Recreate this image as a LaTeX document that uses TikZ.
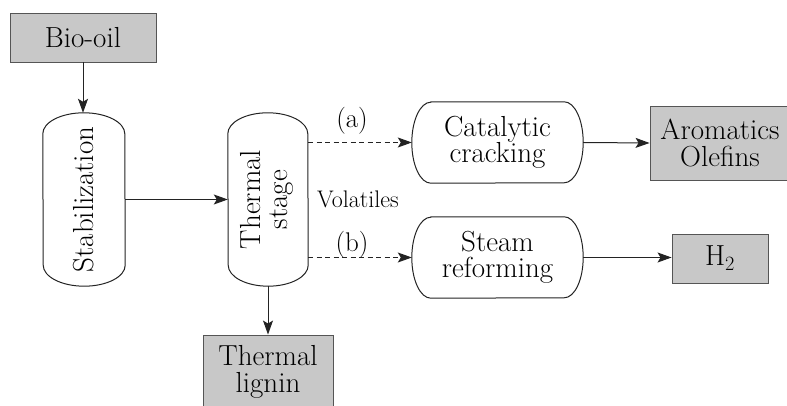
\documentclass[tikz,border=0pt]{standalone}
\usetikzlibrary{arrows.meta}

\definecolor{boxgray}{RGB}{200,200,200}
\definecolor{edgegray}{RGB}{85,85,85}
\definecolor{inkline}{RGB}{35,35,35}

% vertical capsule outline round a node: #1 node, #2 half width, #3 cap depth
\newcommand\vcapsule[3]{%
  \draw[capline] ([yshift=-#3pt]#1.north west)
    arc[start angle=180,end angle=0,x radius=#2pt,y radius=#3pt]
    -- ([yshift=#3pt]#1.south east)
    arc[start angle=0,end angle=-180,x radius=#2pt,y radius=#3pt]
    -- cycle;}
% horizontal capsule outline round a node: #1 node, #2 cap depth, #3 half height
\newcommand\hcapsule[3]{%
  \draw[capline] ([xshift=#2pt]#1.north west)
    -- ([xshift=-#2pt]#1.north east)
    arc[start angle=90,end angle=-90,x radius=#2pt,y radius=#3pt]
    -- ([xshift=#2pt]#1.south west)
    arc[start angle=270,end angle=90,x radius=#2pt,y radius=#3pt]
    -- cycle;}

\begin{document}
\begin{tikzpicture}[x=1pt,y=1pt,
  txt/.style={font=\rmfamily\fontsize{29}{26.5}\selectfont, align=center},
  prod/.style={txt, draw=edgegray, fill=boxgray, line width=0.9pt, inner sep=0pt},
  unit/.style={txt, draw=none, inner sep=0pt},
  capline/.style={draw=inkline, line width=1pt},
  flow/.style={draw=inkline, line width=1pt, -{Stealth[length=14pt,width=10pt,inset=3pt]}},
  alt/.style={flow, dash pattern=on 5pt off 3.5pt},
  note/.style={inner sep=0pt}]
\useasboundingbox (0,0) rectangle (787,406);

% feed and process units
\node[prod, minimum width=146pt, minimum height=49pt] (bio) at (83,368.5) {Bio-oil};
\node[unit, minimum width=82pt, minimum height=173pt] (stab) at (84,206.5)
  {\rotatebox{90}{Stabilization}};
\node[unit, minimum width=80pt, minimum height=173pt] (therm) at (268,206.5)
  {\rotatebox{90}{\begin{tabular}{@{}c@{}}Thermal\\stage\end{tabular}}};
\node[unit, minimum width=171pt, minimum height=81pt] (cat) at (497.5,263.5) {Catalytic\\cracking};
\node[unit, minimum width=171pt, minimum height=81pt] (steam) at (497.5,148.5) {Steam\\reforming};

% products
\node[prod, minimum width=140pt, minimum height=74pt] (arom) at (720,263) {Aromatics\\Olefins};
\node[prod, minimum width=96pt, minimum height=49pt] (h2) at (720,147.5) {H\textsubscript{2}};
\node[prod, minimum width=130pt, minimum height=74pt] (lig) at (268,34) {Thermal\\lignin};

% rounded outlines of the units
\vcapsule{stab}{41}{21}
\vcapsule{therm}{40}{21}
\hcapsule{cat}{19}{40.5}
\hcapsule{steam}{19}{40.5}

% labels on the volatile routes
\node[note, font=\rmfamily\fontsize{27}{27}\selectfont] (la) at (352,285) {(a)};
\node[note, font=\rmfamily\fontsize{27}{27}\selectfont] (lb) at (352,161) {(b)};
\node[note, font=\rmfamily\fontsize{24}{24}\selectfont] (vol) at (358,207) {Volatiles};

% flows
\draw[flow] (bio.south) -- (bio.south |- stab.north);
\draw[flow] (stab.east) -- (therm.west);
\draw[flow] (therm.south) -- (lig.north);
\draw[alt] (therm.east |- cat.west) -- (cat.west);
\draw[alt] (therm.east |- steam.west) -- (steam.west);
\draw[flow] (cat.east) -- (arom.west);
\draw[flow] (steam.east) -- (steam.east -| h2.west);
\end{tikzpicture}
\end{document}
